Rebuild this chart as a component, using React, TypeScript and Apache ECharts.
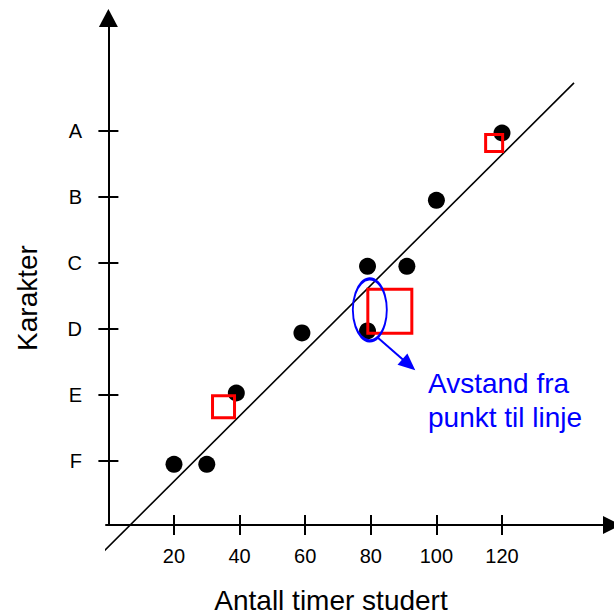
import React, { useEffect, useRef } from "react";
import * as echarts from "echarts";

// Observed points: hours studied vs grade (F=1 ... A=6)
const hours = [20, 30, 39, 59, 79, 79, 91, 100, 120];
const grades = [0.95, 0.95, 2.03, 2.94, 3.95, 2.97, 3.95, 4.95, 5.97];

// Highlighted (red square) points
const squareX = [35.1, 85.8, 117.6];
const squareY = [1.82, 3.27, 5.82];
const squareSizes = [22, 44, 17];

// Fitted line endpoints
const lineX = [-1.65, 141.95];
const lineY = [-0.38, 6.73];

// Ellipse marking the distance, and the arrow from it
const ellipseCenter = [79.7, 3.29];
const arrowFrom = [81.9, 2.88];
const arrowTo = [91.6, 2.46];

const xTicks = [20, 40, 60, 80, 100, 120];
const gradeValues = [1, 2, 3, 4, 5, 6];
const gradeLabels = ["F", "E", "D", "C", "B", "A"];

const FONT = "Liberation Sans, Arial, Helvetica, sans-serif";

export default function App() {
  const ref = useRef<HTMLDivElement>(null);
  useEffect(() => {
    if (!ref.current) return;
    const chart = echarts.init(ref.current, undefined, { renderer: "svg" });
    const xMin = -0.73;
    const xMax = 150.79;
    const yMin = 0.03;
    const yMax = 7.576;
    const labelStyle = { color: "#000", fontSize: 20, fontFamily: FONT };
    const xBase = {
      type: "value",
      min: xMin,
      max: xMax,
      position: "bottom",
      splitLine: { show: false },
    };
    const yBase = {
      type: "value",
      min: yMin,
      max: yMax,
      position: "left",
      splitLine: { show: false },
    };
    const option: any = {
      animation: false,
      backgroundColor: "#fff",
      grid: { left: 106, top: 27, right: 11, bottom: 90, containLabel: false },
      xAxis: [
        {
          ...xBase,
          axisLine: {
            show: true,
            lineStyle: { color: "#000", width: 2 },
            symbol: ["none", "triangle"],
            symbolSize: [18, 18],
            symbolOffset: [0, 9],
          },
          axisTick: {
            show: true,
            inside: false,
            length: 10,
            customValues: xTicks,
            lineStyle: { color: "#000", width: 2 },
          },
          axisLabel: {
            show: true,
            customValues: xTicks,
            margin: 21,
            ...labelStyle,
          },
        },
        {
          ...xBase,
          axisLine: { show: false },
          axisTick: {
            show: true,
            inside: true,
            length: 10,
            customValues: xTicks,
            lineStyle: { color: "#000", width: 2 },
          },
          axisLabel: { show: false },
        },
      ],
      yAxis: [
        {
          ...yBase,
          axisLine: {
            show: true,
            lineStyle: { color: "#000", width: 2 },
            symbol: ["none", "triangle"],
            symbolSize: [19, 18],
            symbolOffset: [0, 9],
          },
          axisTick: {
            show: true,
            inside: false,
            length: 10,
            customValues: gradeValues,
            lineStyle: { color: "#000", width: 2 },
          },
          axisLabel: {
            show: true,
            customValues: gradeValues,
            margin: 24,
            formatter: (v: number) => {
              const i = gradeValues.indexOf(Math.round(v));
              return i >= 0 ? gradeLabels[i] : "";
            },
            ...labelStyle,
          },
        },
        {
          ...yBase,
          axisLine: { show: false },
          axisTick: {
            show: true,
            inside: true,
            length: 10,
            customValues: gradeValues,
            lineStyle: { color: "#000", width: 2 },
          },
          axisLabel: { show: false },
        },
      ],
      series: [
        {
          type: "line",
          xAxisIndex: 0,
          yAxisIndex: 0,
          data: lineX.map((x, i) => [x, lineY[i]]),
          showSymbol: false,
          symbol: "none",
          clip: false,
          lineStyle: { color: "#000", width: 1.6, opacity: 1 },
          silent: true,
          z: 2,
        },
        {
          type: "scatter",
          xAxisIndex: 0,
          yAxisIndex: 0,
          data: hours.map((h, i) => [h, grades[i]]),
          symbol: "circle",
          symbolSize: 17,
          itemStyle: { color: "#000", opacity: 1 },
          z: 3,
        },
        {
          type: "scatter",
          xAxisIndex: 0,
          yAxisIndex: 0,
          data: squareX.map((x, i) => ({
            value: [x, squareY[i]],
            symbolSize: squareSizes[i],
          })),
          symbol: "rect",
          itemStyle: {
            color: "rgba(0,0,0,0)",
            borderColor: "#ff0000",
            borderWidth: 3,
            opacity: 1,
          },
          z: 4,
        },
        {
          type: "scatter",
          xAxisIndex: 0,
          yAxisIndex: 0,
          data: [ellipseCenter],
          symbol: "circle",
          symbolSize: [34, 62],
          itemStyle: {
            color: "rgba(0,0,0,0)",
            borderColor: "#0000ff",
            borderWidth: 2.5,
            opacity: 1,
          },
          z: 5,
          markLine: {
            silent: true,
            symbol: ["none", "triangle"],
            symbolSize: [15, 17],
            label: { show: false },
            lineStyle: { color: "#0000ff", width: 2, type: "solid", opacity: 1 },
            data: [[{ coord: arrowFrom }, { coord: arrowTo }]],
          },
        },
      ],
      graphic: [
        {
          type: "text",
          x: 428,
          y: 383,
          style: {
            text: "Avstand fra",
            font: `28px ${FONT}`,
            fill: "#0000ff",
            textAlign: "left",
            textVerticalAlign: "middle",
          },
        },
        {
          type: "text",
          x: 428,
          y: 417,
          style: {
            text: "punkt til linje",
            font: `28px ${FONT}`,
            fill: "#0000ff",
            textAlign: "left",
            textVerticalAlign: "middle",
          },
        },
        {
          type: "text",
          x: 331,
          y: 600,
          style: {
            text: "Antall timer studert",
            font: `28px ${FONT}`,
            fill: "#000",
            textAlign: "center",
            textVerticalAlign: "middle",
          },
        },
        {
          type: "text",
          x: 27,
          y: 298,
          rotation: Math.PI / 2,
          style: {
            text: "Karakter",
            font: `28px ${FONT}`,
            fill: "#000",
            textAlign: "center",
            textVerticalAlign: "middle",
          },
        },
      ],
    };
    chart.setOption(option);
    return () => chart.dispose();
  }, []);
  return (
    <div
      ref={ref}
      style={{ position: "absolute", left: 0, top: 0, width: 614, height: 615 }}
    />
  );
}
